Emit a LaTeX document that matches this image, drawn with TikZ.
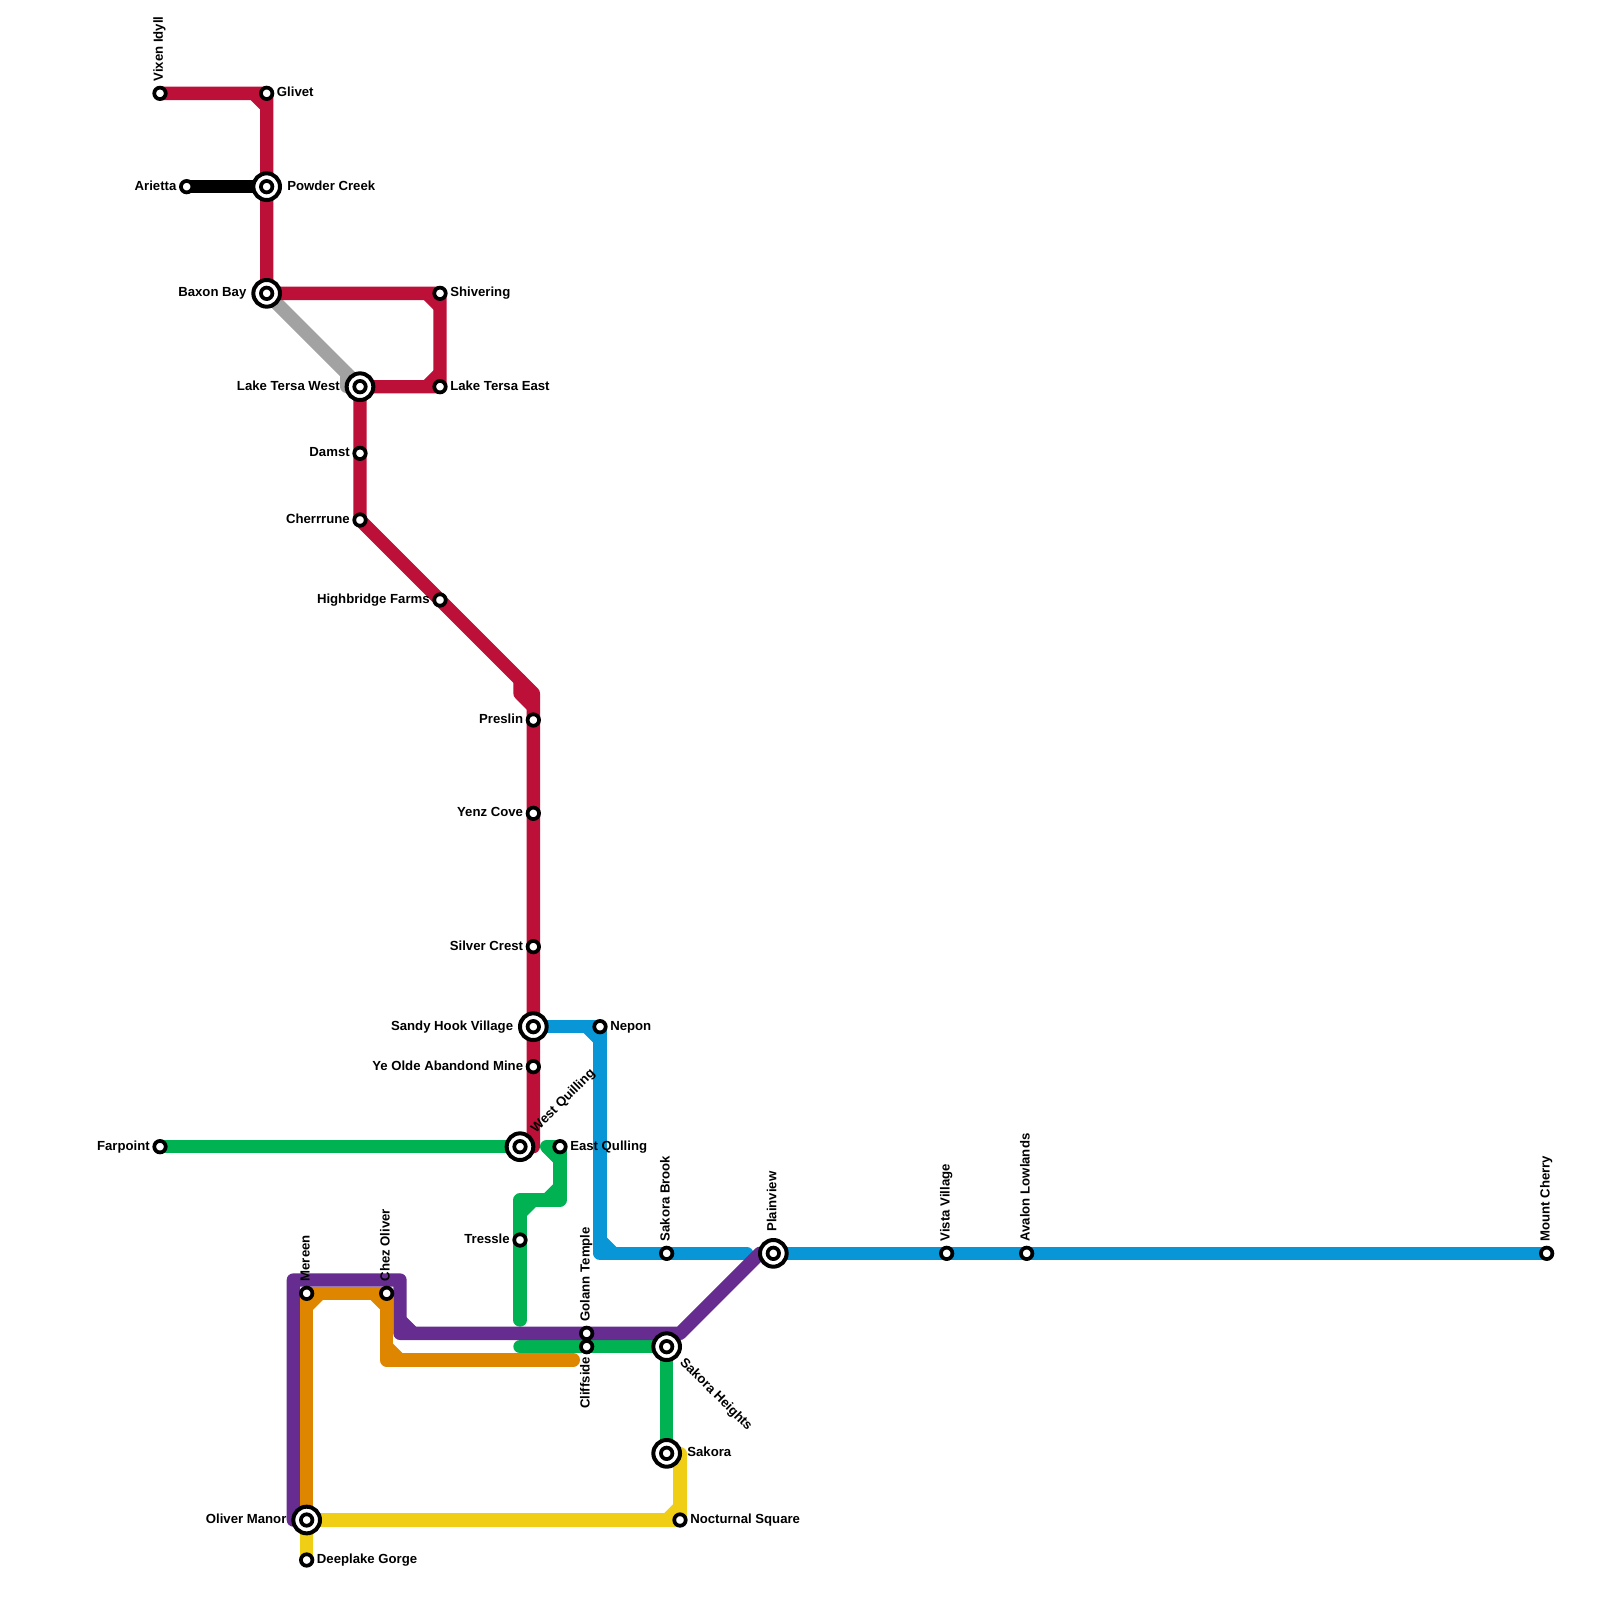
\documentclass[tikz,border=0pt]{standalone}
\usepackage{fontspec}
\setmainfont{Liberation Sans}
\usetikzlibrary{backgrounds}
\definecolor{cred}{HTML}{BD1038}
\definecolor{cgray}{HTML}{A2A2A2}
\definecolor{cgreen}{HTML}{00B251}
\definecolor{cblue}{HTML}{0896D7}
\definecolor{cpurple}{HTML}{662C90}
\definecolor{corange}{HTML}{DF8600}
\definecolor{cyellow}{HTML}{F0CE15}
\tikzset{
  route/.style={line width=10pt,line join=round,line cap=round},
  cham/.style={line width=10pt,line cap=butt},
  stop/.style={circle,draw=black,fill=white,line width=2.8pt,inner sep=0pt,minimum size=8.6pt,outer sep=0pt},
  hub/.style={circle,draw=black,fill=white,line width=3pt,inner sep=0pt,minimum size=20pt,outer sep=0pt},
  lbl/.style={font=\bfseries\fontsize{9.88pt}{11pt}\selectfont,inner sep=0pt,text=black},
  rc/.style={lbl,anchor=base west,xshift=7.5pt,yshift=-2.7pt},
  rf/.style={lbl,anchor=base west,xshift=15.3pt,yshift=-2.7pt},
  lc/.style={lbl,anchor=base east,xshift=-7.5pt,yshift=-2.7pt},
  lf/.style={lbl,anchor=base east,xshift=-15pt,yshift=-2.7pt},
  uc/.style={lbl,rotate=90,anchor=base west,xshift=8.75pt,yshift=-2.2pt},
  uf/.style={lbl,rotate=90,anchor=base west,xshift=16pt,yshift=-2.2pt},
  dc/.style={lbl,rotate=90,anchor=base east,xshift=-7.5pt,yshift=-2.2pt},
}
\begin{document}
\begin{tikzpicture}[x=10pt,y=-10pt]
\useasboundingbox (0,0) rectangle (120,120);
% interchange rings
\node[hub] (rPowder) at (20,14) {};
\node[hub] (rBaxon) at (20,22) {};
\node[hub] (rTersaW) at (27,29) {};
\node[hub] (rSandy) at (40,77) {};
\node[hub] (rWestQ) at (39,86) {};
\node[hub] (rPlain) at (58,94) {};
\node[hub] (rHeights) at (50,101) {};
\node[hub] (rSakora) at (50,109) {};
\node[hub] (rOliver) at (23,114) {};
% stations
\node[stop] (Vixen) at (12,7) {};
\node[stop] (Glivet) at (20,7) {};
\node[stop] (Arietta) at (14,14) {};
\node[stop] (Powder) at (20,14) {};
\node[stop] (Baxon) at (20,22) {};
\node[stop] (Shivering) at (33,22) {};
\node[stop] (TersaW) at (27,29) {};
\node[stop] (TersaE) at (33,29) {};
\node[stop] (Damst) at (27,34) {};
\node[stop] (Cherr) at (27,39) {};
\node[stop] (High) at (33,45) {};
\node[stop] (Preslin) at (40,54) {};
\node[stop] (Yenz) at (40,61) {};
\node[stop] (Silver) at (40,71) {};
\node[stop] (Sandy) at (40,77) {};
\node[stop] (Olde) at (40,80) {};
\node[stop] (WestQ) at (39,86) {};
\node[stop] (EastQ) at (42,86) {};
\node[stop] (Nepon) at (45,77) {};
\node[stop] (Farpoint) at (12,86) {};
\node[stop] (Tressle) at (39,93) {};
\node[stop] (Brook) at (50,94) {};
\node[stop] (Plain) at (58,94) {};
\node[stop] (Vista) at (71,94) {};
\node[stop] (Avalon) at (77,94) {};
\node[stop] (Cherry) at (116,94) {};
\node[stop] (Mereen) at (23,97) {};
\node[stop] (Chez) at (29,97) {};
\node[stop] (Golann) at (44,100) {};
\node[stop] (Cliff) at (44,101) {};
\node[stop] (Heights) at (50,101) {};
\node[stop] (Sakora) at (50,109) {};
\node[stop] (Nocturnal) at (51,114) {};
\node[stop] (Oliver) at (23,114) {};
\node[stop] (Deep) at (23,117) {};
% free ends and bends
\coordinate (gA) at (26,28);
\coordinate (gB) at (26,29);
\coordinate (rA) at (40,52);
\coordinate (rB) at (39,51);
\coordinate (rC) at (39,52);
\coordinate (rD) at (40,53);
\coordinate (rE) at (40,86);
\coordinate (eA) at (41,86);
\coordinate (eB) at (42,90);
\coordinate (eC) at (39,90);
\coordinate (eD) at (39,99);
\coordinate (fA) at (39,101);
\coordinate (bA) at (45,94);
\coordinate (bB) at (56,94);
\coordinate (pA) at (22,114);
\coordinate (pB) at (22,96);
\coordinate (pC) at (30,96);
\coordinate (pD) at (30,100);
\coordinate (pE) at (51,100);
\coordinate (pF) at (57,94);
\coordinate (oA) at (29,102);
\coordinate (oB) at (43,102);
\coordinate (yA) at (51,109);
\begin{pgfonlayer}{background}
% grey
\draw[route,cgray] (Baxon.center) -- (gA) -- (TersaW.center);
\draw[route,cgray] (gA) -- (gB) -- (TersaW.center);
% red
\draw[route,cred] (Vixen.center) -- (Glivet.center) -- (Powder.center) -- (Baxon.center) -- (Shivering.center) -- (TersaE.center) -- (TersaW.center) -- (Damst.center) -- (Cherr.center) -- (High.center) -- (rA) -- (Preslin.center) -- (Yenz.center) -- (Silver.center) -- (Sandy.center) -- (Olde.center) -- (rE) -- (WestQ.center);
\draw[route,cred] (rB) -- (rC) -- (rD);
\draw[cham,cred] (19,7) -- (20,8);
\draw[cham,cred] (32,22) -- (33,23);
\draw[cham,cred] (33,28) -- (32,29);
% black
\draw[route,black] (Arietta.center) -- (Powder.center);
% green
\draw[route,cgreen] (Farpoint.center) -- (WestQ.center);
\draw[route,cgreen] (eA) -- (EastQ.center) -- (eB) -- (eC) -- (Tressle.center) -- (eD);
\draw[cham,cgreen] (eA) -- (42,87);
\draw[cham,cgreen] (42,89) -- (41,90);
\draw[cham,cgreen] (40,90) -- (39,91);
\draw[route,cgreen] (fA) -- (Cliff.center) -- (Heights.center) -- (Sakora.center);
% blue
\draw[route,cblue] (Sandy.center) -- (Nepon.center) -- (bA) -- (Brook.center) -- (bB);
\draw[route,cblue] (Plain.center) -- (Vista.center) -- (Avalon.center) -- (Cherry.center);
\draw[cham,cblue] (44,77) -- (45,78);
\draw[cham,cblue] (45,93) -- (46,94);
% purple
\draw[route,cpurple] (Oliver.center) -- (pA) -- (pB) -- (pC) -- (pD) -- (Golann.center) -- (pE) -- (pF) -- (Plain.center);
\draw[cham,cpurple] (30,99) -- (31,100);
% orange
\draw[route,corange] (Oliver.center) -- (Mereen.center) -- (Chez.center) -- (oA) -- (oB);
\draw[cham,corange] (24,97) -- (23,98);
\draw[cham,corange] (28,97) -- (29,98);
\draw[cham,corange] (29,101) -- (30,102);
% yellow
\draw[route,cyellow] (Sakora.center) -- (yA) -- (Nocturnal.center) -- (Oliver.center) -- (Deep.center);
\draw[cham,cyellow] (51,113) -- (50,114);
\end{pgfonlayer}
% labels
\node[uc] (lVixen) at (Vixen.center) {Vixen Idyll};
\node[rc] (lGlivet) at (Glivet.center) {Glivet};
\node[lc] (lArietta) at (Arietta.center) {Arietta};
\node[rf] (lPowder) at (Powder.center) {Powder Creek};
\node[lf] (lBaxon) at (Baxon.center) {Baxon Bay};
\node[rc] (lShivering) at (Shivering.center) {Shivering};
\node[lf] (lTersaW) at (TersaW.center) {Lake Tersa West};
\node[rc] (lTersaE) at (TersaE.center) {Lake Tersa East};
\node[lc] (lDamst) at (Damst.center) {Damst};
\node[lc] (lCherr) at (Cherr.center) {Cherrrune};
\node[lc] (lHigh) at (High.center) {Highbridge Farms};
\node[lc] (lPreslin) at (Preslin.center) {Preslin};
\node[lc] (lYenz) at (Yenz.center) {Yenz Cove};
\node[lc] (lSilver) at (Silver.center) {Silver Crest};
\node[lf] (lSandy) at (Sandy.center) {Sandy Hook Village};
\node[lc] (lOlde) at (Olde.center) {Ye Olde Abandond Mine};
\node[rc] (lNepon) at (Nepon.center) {Nepon};
\node[lbl,rotate=45,anchor=base west,xshift=15.4pt,yshift=-1.5pt] (lWestQ) at (WestQ.center) {West Quilling};
\node[rc] (lEastQ) at (EastQ.center) {East Qulling};
\node[lc] (lFarpoint) at (Farpoint.center) {Farpoint};
\node[lc] (lTressle) at (Tressle.center) {Tressle};
\node[uc] (lBrook) at (Brook.center) {Sakora Brook};
\node[uf] (lPlain) at (Plain.center) {Plainview};
\node[uc] (lVista) at (Vista.center) {Vista Village};
\node[uc] (lAvalon) at (Avalon.center) {Avalon Lowlands};
\node[uc] (lCherry) at (Cherry.center) {Mount Cherry};
\node[uc] (lMereen) at (Mereen.center) {Mereen};
\node[uc] (lChez) at (Chez.center) {Chez Oliver};
\node[uc] (lGolann) at (Golann.center) {Golann Temple};
\node[dc] (lCliff) at (Cliff.center) {Cliffside};
\node[lbl,rotate=-45,anchor=base west,xshift=15.4pt,yshift=-2pt] (lHeights) at (Heights.center) {Sakora Heights};
\node[rf] (lSakora) at (Sakora.center) {Sakora};
\node[rc] (lNocturnal) at (Nocturnal.center) {Nocturnal Square};
\node[lf] (lOliver) at (Oliver.center) {Oliver Manor};
\node[rc] (lDeep) at (Deep.center) {Deeplake Gorge};
\end{tikzpicture}
\end{document}
